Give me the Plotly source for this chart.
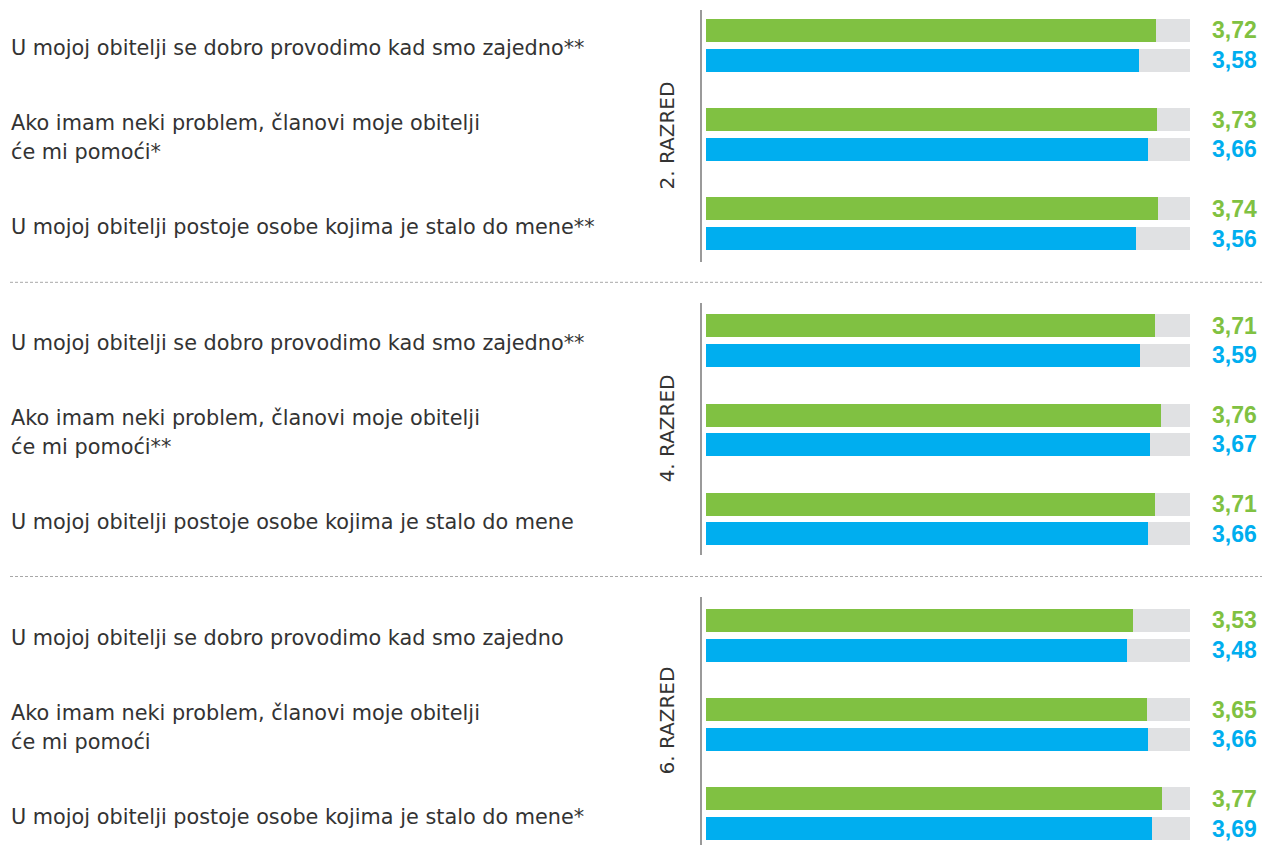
import plotly.graph_objects as go

# ---------------- data ----------------
grades = ["2. RAZRED", "4. RAZRED", "6. RAZRED"]

questions_2 = [
    "U mojoj obitelji se dobro provodimo kad smo zajedno**",
    "Ako imam neki problem, članovi moje obitelji<br>će mi pomoći*",
    "U mojoj obitelji postoje osobe kojima je stalo do mene**",
]
questions_4 = [
    "U mojoj obitelji se dobro provodimo kad smo zajedno**",
    "Ako imam neki problem, članovi moje obitelji<br>će mi pomoći**",
    "U mojoj obitelji postoje osobe kojima je stalo do mene",
]
questions_6 = [
    "U mojoj obitelji se dobro provodimo kad smo zajedno",
    "Ako imam neki problem, članovi moje obitelji<br>će mi pomoći",
    "U mojoj obitelji postoje osobe kojima je stalo do mene*",
]

green_2 = [3.72, 3.73, 3.74]
blue_2 = [3.58, 3.66, 3.56]
green_4 = [3.71, 3.76, 3.71]
blue_4 = [3.59, 3.67, 3.66]
green_6 = [3.53, 3.65, 3.77]
blue_6 = [3.48, 3.66, 3.69]

SCALE_MAX = 4

# ---------------- styling / layout ----------------
W, H = 1274, 845
GREEN = "#80C142"
BLUE = "#00AEEF"
GREY = "#E0E1E3"
TEXT = "#333333"
AXIS = "#9A9A9A"
BAR_W = 0.775
LINE_GAP = 29  # px between wrapped label lines

panels = [
    (grades[0], questions_2, green_2, blue_2),
    (grades[1], questions_4, green_4, blue_4),
    (grades[2], questions_6, green_6, blue_6),
]
# pixel extents of each panel's vertical axis line, and y ranges
panel_px = [(10, 262), (302.7, 555), (597, 845)]
panel_ranges = [[7.79, -0.69], [7.72, -0.77], [7.555, -0.79]]

x_left_px, x_right_px = 702.4, 1190
x_domain = [x_left_px / W, x_right_px / W]
x_range = [-0.033, SCALE_MAX]

fig = go.Figure()
annotations = []
layout_axes = {}

for i, (grade, qs, g, b) in enumerate(panels):
    sfx = "" if i == 0 else str(i + 1)
    xa, ya = "x" + sfx, "y" + sfx
    n = len(qs)
    pos_g = [3 * q for q in range(n)]
    pos_b = [3 * q + 1 for q in range(n)]

    fig.add_trace(go.Bar(
        x=[SCALE_MAX] * (2 * n), y=pos_g + pos_b, orientation="h",
        marker=dict(color=GREY, line=dict(width=0)), width=BAR_W,
        xaxis=xa, yaxis=ya, showlegend=False, hoverinfo="skip"))
    fig.add_trace(go.Bar(
        x=g, y=pos_g, orientation="h",
        marker=dict(color=GREEN, line=dict(width=0)), width=BAR_W,
        xaxis=xa, yaxis=ya, showlegend=False, name="green"))
    fig.add_trace(go.Bar(
        x=b, y=pos_b, orientation="h",
        marker=dict(color=BLUE, line=dict(width=0)), width=BAR_W,
        xaxis=xa, yaxis=ya, showlegend=False, name="blue"))

    top, bot = panel_px[i]
    layout_axes["xaxis" + sfx] = dict(
        domain=x_domain, range=x_range, visible=False, fixedrange=True,
        anchor=ya)
    layout_axes["yaxis" + sfx] = dict(
        domain=[1 - bot / H, 1 - top / H], range=panel_ranges[i],
        showticklabels=False, showgrid=False, zeroline=False, ticks="",
        showline=True, linecolor=AXIS, linewidth=1.5, anchor=xa,
        fixedrange=True)

    # value labels
    for vals, pos, col in ((g, pos_g, GREEN), (b, pos_b, BLUE)):
        for v, p in zip(vals, pos):
            annotations.append(dict(
                x=SCALE_MAX, y=p, xref=xa, yref=ya, xanchor="left",
                yanchor="middle", xshift=20, showarrow=False,
                text=f"{v:.2f}".replace(".", ","),
                font=dict(family="Liberation Sans, Arial, sans-serif",
                          size=23, color=col, weight="bold")))
    # question labels (each wrapped line placed separately)
    for q, text in enumerate(qs):
        lines = text.split("<br>")
        k = len(lines)
        for j, line in enumerate(lines):
            annotations.append(dict(
                x=8.5 / W, y=3 * q + 0.5, xref="paper", yref=ya,
                xanchor="left", yanchor="middle", align="left",
                yshift=-(j - (k - 1) / 2) * LINE_GAP - 3,
                showarrow=False, text=line,
                font=dict(family="DejaVu Sans, sans-serif", size=20.8,
                          color=TEXT)))
    # grade label (rotated)
    annotations.append(dict(
        x=666.5 / W, y=1 - ((top + bot) / 2) / H, xref="paper", yref="paper",
        xanchor="center", yanchor="middle", showarrow=False, textangle=-90,
        text=grade,
        font=dict(family="DejaVu Sans, sans-serif", size=20, color=TEXT)))

shapes = []
for y_px in (282.3, 576.5):
    shapes.append(dict(
        type="line", xref="paper", yref="paper",
        x0=10 / W, x1=1262 / W, y0=1 - y_px / H, y1=1 - y_px / H,
        line=dict(color="#A8A8A8", width=1, dash="3px,2px")))

fig.update_layout(
    width=W, height=H,
    margin=dict(l=0, r=0, t=0, b=0),
    paper_bgcolor="white", plot_bgcolor="white",
    barmode="overlay", bargap=0,
    annotations=annotations, shapes=shapes,
    **layout_axes,
)

fig.write_html(
    "out.html",
    config={"displayModeBar": False},
    post_script="document.body.style.margin='0';document.body.style.overflow='hidden';",
)
